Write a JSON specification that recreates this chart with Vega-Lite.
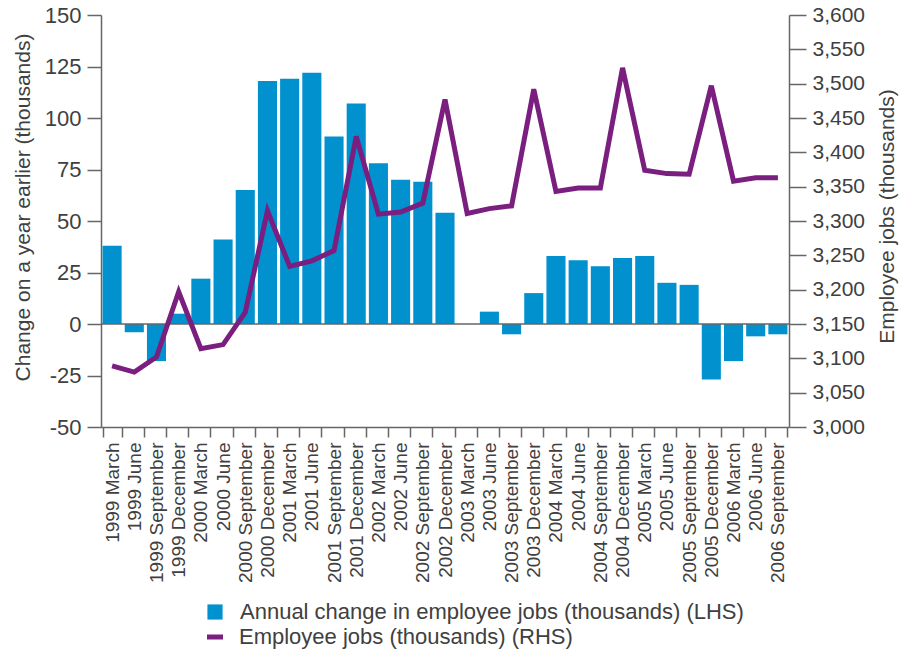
{
  "$schema": "https://vega.github.io/schema/vega-lite/v6.json",
  "autosize": "none",
  "width": 688,
  "height": 412,
  "padding": {"left": 101, "top": 15, "right": 120, "bottom": 228},
  "background": "white",
  "config": {
    "font": "Liberation Sans",
    "view": {"stroke": null},
    "axis": {
      "labelColor": "#404040",
      "titleColor": "#404040",
      "titleFontWeight": "normal",
      "domainColor": "#666666",
      "tickColor": "#666666",
      "domainWidth": 1.5,
      "tickWidth": 1.5,
      "grid": false
    }
  },
  "data": {
    "values": [
      {"q": "1999 March", "chg": 38, "jobs": 3089},
      {"q": "1999 June", "chg": -4, "jobs": 3080},
      {"q": "1999 September", "chg": -18, "jobs": 3102},
      {"q": "1999 December", "chg": 5, "jobs": 3197},
      {"q": "2000 March", "chg": 22, "jobs": 3114},
      {"q": "2000 June", "chg": 41, "jobs": 3120},
      {"q": "2000 September", "chg": 65, "jobs": 3167},
      {"q": "2000 December", "chg": 118, "jobs": 3315},
      {"q": "2001 March", "chg": 119, "jobs": 3234},
      {"q": "2001 June", "chg": 122, "jobs": 3242},
      {"q": "2001 September", "chg": 91, "jobs": 3257},
      {"q": "2001 December", "chg": 107, "jobs": 3423},
      {"q": "2002 March", "chg": 78, "jobs": 3310},
      {"q": "2002 June", "chg": 70, "jobs": 3313},
      {"q": "2002 September", "chg": 69, "jobs": 3326},
      {"q": "2002 December", "chg": 54, "jobs": 3477},
      {"q": "2003 March", "chg": 0, "jobs": 3311},
      {"q": "2003 June", "chg": 6, "jobs": 3318},
      {"q": "2003 September", "chg": -5, "jobs": 3322},
      {"q": "2003 December", "chg": 15, "jobs": 3492},
      {"q": "2004 March", "chg": 33, "jobs": 3343},
      {"q": "2004 June", "chg": 31, "jobs": 3348},
      {"q": "2004 September", "chg": 28, "jobs": 3348},
      {"q": "2004 December", "chg": 32, "jobs": 3523},
      {"q": "2005 March", "chg": 33, "jobs": 3374},
      {"q": "2005 June", "chg": 20, "jobs": 3369},
      {"q": "2005 September", "chg": 19, "jobs": 3368},
      {"q": "2005 December", "chg": -27, "jobs": 3497},
      {"q": "2006 March", "chg": -18, "jobs": 3358},
      {"q": "2006 June", "chg": -6, "jobs": 3363},
      {"q": "2006 September", "chg": -5, "jobs": 3363}
    ]
  },
  "encoding": {
    "x": {
      "field": "q",
      "type": "nominal",
      "sort": null,
      "scale": {"paddingInner": 0.14, "paddingOuter": 0.07},
      "axis": {
        "title": null,
        "labelAngle": -90,
        "labelAlign": "right",
        "labelBaseline": "middle",
        "labelFontSize": 19,
        "labelPadding": 5,
        "tickSize": 10,
        "tickBand": "extent"
      }
    }
  },
  "layer": [
    {
      "layer": [
        {
          "mark": {"type": "bar"},
          "encoding": {
            "y": {
              "field": "chg",
              "type": "quantitative",
              "scale": {"domain": [-50, 150], "nice": false, "zero": true},
              "axis": {
                "orient": "left",
                "values": [-50, -25, 0, 25, 50, 75, 100, 125, 150],
                "labelExpr": "datum.value < 0 ? '-' + abs(datum.value) : '' + datum.value",
                "title": "Change on a year earlier (thousands)",
                "titleFontSize": 21,
                "titleAngle": 270,
                "titleAlign": "center",
                "titleBaseline": "bottom",
                "titleX": -68,
                "titleY": 192,
                "labelFontSize": 22,
                "labelPadding": 6,
                "tickSize": 14
              }
            },
            "fill": {
              "datum": "Annual change in employee jobs (thousands) (LHS)",
              "type": "nominal",
              "scale": {"range": ["#0091ce"]},
              "legend": {
                "orient": "none",
                "legendX": 103,
                "legendY": 586,
                "title": null,
                "symbolType": "square",
                "symbolSize": 230,
                "symbolStrokeWidth": 0,
                "labelFontSize": 22,
                "labelColor": "#404040",
                "labelOffset": 14,
                "labelLimit": 0,
                "padding": 0
              }
            }
          }
        },
        {
          "data": {"values": [{"zero": 0}]},
          "mark": {"type": "rule", "color": "#666666", "strokeWidth": 1.5},
          "encoding": {
            "x": null,
            "y": {"datum": 0, "type": "quantitative"}
          }
        }
      ]
    },
    {
      "mark": {"type": "line", "strokeWidth": 5, "strokeJoin": "miter"},
      "encoding": {
        "order": {"value": null},
        "y": {
          "field": "jobs",
          "type": "quantitative",
          "scale": {"domain": [3000, 3600], "nice": false, "zero": false},
          "axis": {
            "orient": "right",
            "values": [3000, 3050, 3100, 3150, 3200, 3250, 3300, 3350, 3400, 3450, 3500, 3550, 3600],
            "format": ",d",
            "title": "Employee jobs (thousands)",
            "titleFontSize": 21,
            "titleAngle": 270,
            "titleAlign": "center",
            "titleBaseline": "bottom",
            "titleX": 108,
            "titleY": 201,
            "labelFontSize": 21,
            "labelPadding": 6,
            "tickSize": 17
          }
        },
        "stroke": {
          "datum": "Employee jobs (thousands) (RHS)",
          "type": "nominal",
          "scale": {"range": ["#7a1e7f"]},
          "legend": {
            "orient": "none",
            "legendX": 103,
            "legendY": 611,
            "title": null,
            "symbolType": "stroke",
            "symbolSize": 256,
            "symbolStrokeWidth": 5,
            "labelFontSize": 22,
            "labelColor": "#404040",
            "labelOffset": 13,
            "labelLimit": 0,
            "padding": 0
          }
        }
      }
    }
  ],
  "resolve": {"scale": {"y": "independent"}}
}
